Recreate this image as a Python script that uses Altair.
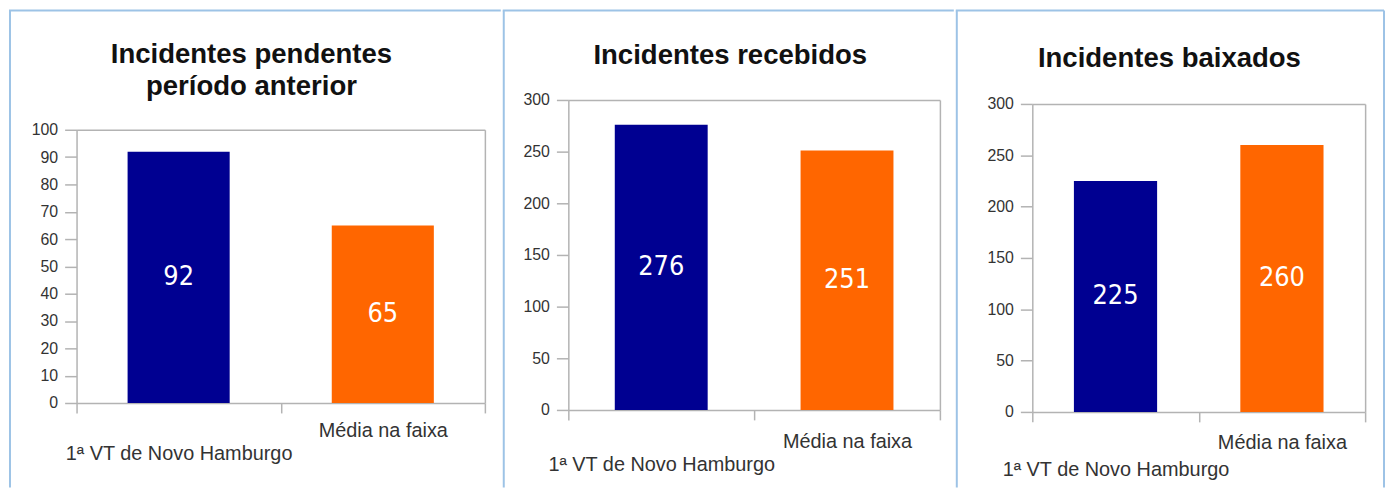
import altair as alt
import pandas as pd

categories = ["1ª VT de Novo Hamburgo", "Média na faixa"]
pendentes = [92, 65]
recebidos = [276, 251]
baixados = [225, 260]
titles = [["Incidentes pendentes", "período anterior"], ["Incidentes recebidos"], ["Incidentes baixados"]]
y_max = [100, 300, 300]
y_step = [10, 50, 50]
bar_colors = ["#000091", "#FF6600"]

BORDER = "#9DC3E6"
FRAME = "#B3B3B3"
FONT = "Liberation Sans"
NUM_FONT = "Liberation Sans Narrow, DejaVu Sans Condensed, Liberation Sans, sans-serif"

# off: gap between common top and the panel's plot top; h: view height (to plot bottom)
layout = [
    dict(w=411, h=305, off=30, tx=176, ty=-37, left=-67, right=427, near=8, far=31, last=False),
    dict(w=374, h=312, off=0, tx=163, ty=-36, left=-65, right=388, near=12, far=35, last=False),
    dict(w=335, h=314, off=4, tx=138, ty=-33, left=-76, right=354, near=11, far=38, last=True),
]
TOP = -90
BOTTOM = 390
series = [pendentes, recebidos, baixados]


def panel(vals, title, ymax, step, L):
    df = pd.DataFrame({"cat": categories, "val": vals})
    xaxis = alt.Axis(
        labelAngle=0, tickBand="extent", tickSize=10, labelFontSize=20, labelFont=FONT,
        labelColor="#333333", domainColor=FRAME, tickColor=FRAME, domainWidth=1.5, tickWidth=1.5,
        labelLimit=0, labelOverlap=False,
        labelPadding={"condition": {"test": "datum.value === 'Média na faixa'", "value": L["near"]}, "value": L["far"]},
    )
    yaxis = alt.Axis(
        values=list(range(0, ymax + 1, step)), tickSize=12, labelPadding=7, labelFontSize=16,
        labelFont=FONT, labelColor="#333333", grid=False, domainColor=FRAME, tickColor=FRAME,
        domainWidth=1.5, tickWidth=1.5,
    )
    yaxis_r = alt.Axis(
        orient="right", values=[ymax], labels=False, ticks=False, grid=True, gridColor=FRAME,
        gridWidth=1.5, gridOpacity=1, domainColor=FRAME, domainWidth=1.5,
    )
    xscale = alt.Scale(domain=categories, paddingInner=0, paddingOuter=0)
    yscale = alt.Scale(domain=[0, ymax], nice=False, range=[L["h"], L["off"]])
    base = alt.Chart(df)
    bars = base.mark_bar(width=alt.RelativeBandSize(0.5)).encode(
        x=alt.X("cat:N", sort=categories, title=None, scale=xscale, axis=xaxis),
        y=alt.Y("val:Q", title=None, scale=yscale, axis=yaxis),
        color=alt.Color("cat:N", scale=alt.Scale(domain=categories, range=bar_colors), legend=None),
    )
    labels = base.transform_calculate(mid="datum.val / 2").mark_text(
        font=NUM_FONT, fontSize=27, color="white", baseline="middle"
    ).encode(
        x=alt.X("cat:N", sort=categories, title=None, scale=xscale, axis=xaxis),
        y=alt.Y("mid:Q", title=None, scale=yscale, axis=yaxis_r),
        text="val:Q",
    )
    one = pd.DataFrame({"k": [0]})
    ttl = alt.Chart(one).mark_text(
        text=title, font=FONT, fontSize=27.7, fontWeight="bold", color="#111111",
        baseline="alphabetic", align="center", lineHeight=32,
    ).encode(x=alt.value(L["tx"]), y=alt.value(L["ty"]))
    left_rule = alt.Chart(one).mark_rule(color=BORDER, strokeWidth=2).encode(
        x=alt.value(L["left"]), y=alt.value(TOP), y2=alt.value(BOTTOM))
    top_rule = alt.Chart(one).mark_rule(color=BORDER, strokeWidth=2).encode(
        x=alt.value(L["left"] - 1), x2=alt.value(L["right"]), y=alt.value(TOP))
    layers = [left_rule, top_rule, bars, labels, ttl]
    if L["last"]:
        layers.append(alt.Chart(one).mark_rule(color=BORDER, strokeWidth=2).encode(
            x=alt.value(L["right"]), y=alt.value(TOP), y2=alt.value(BOTTOM)))
    return alt.layer(*layers).resolve_axis(y="independent").properties(width=L["w"], height=L["h"])


charts = [panel(series[i], titles[i], y_max[i], y_step[i], layout[i]) for i in range(3)]

chart = alt.hconcat(*charts, spacing=0).properties(padding=0).configure(
    font=FONT
).configure_view(strokeWidth=0)

chart.save("out.html", embed_options={"renderer": "svg", "actions": False})
